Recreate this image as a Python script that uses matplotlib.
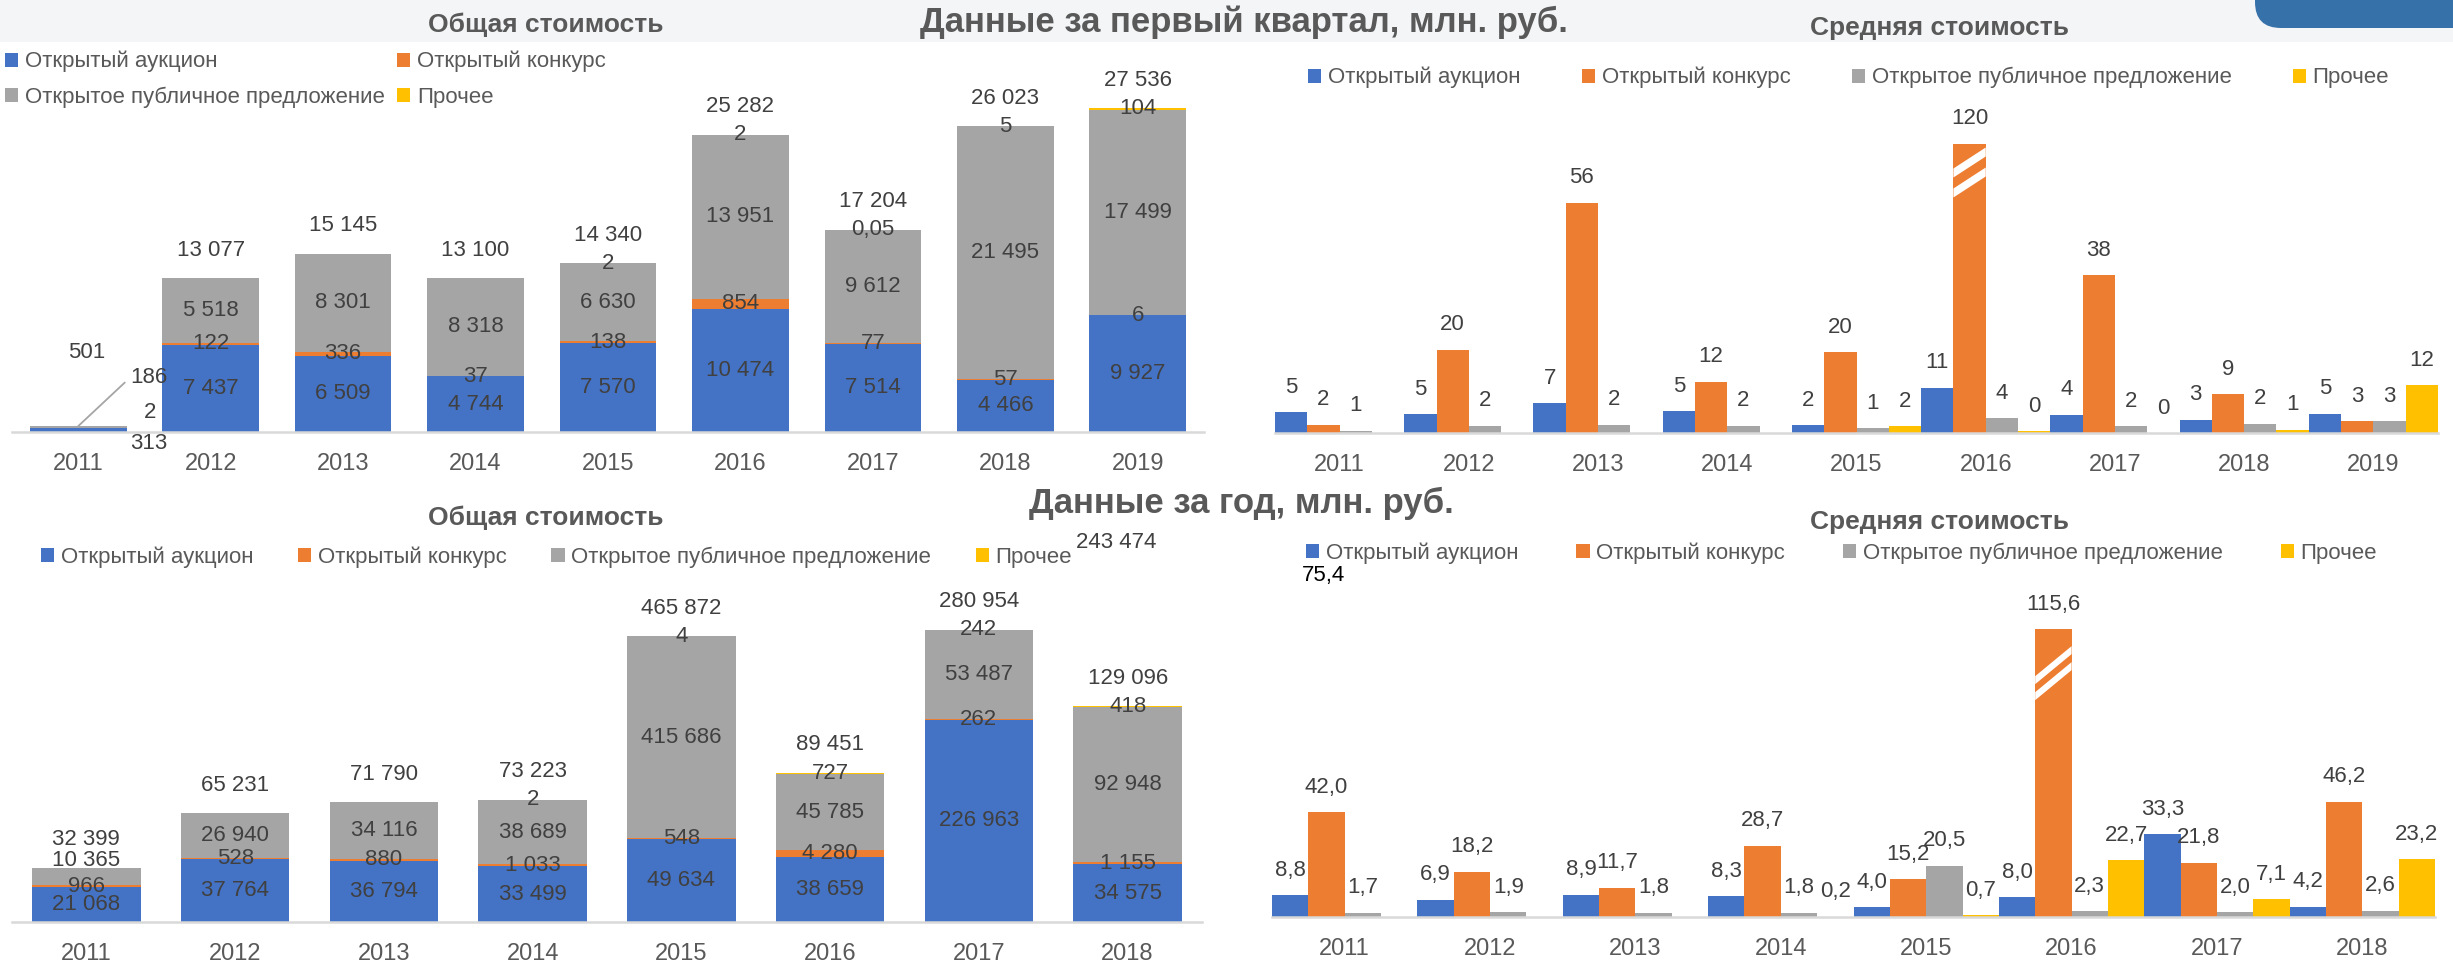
import numpy as np
import matplotlib
matplotlib.use("Agg")
import matplotlib.pyplot as plt
from matplotlib.patches import Patch, Polygon, FancyBboxPatch, Rectangle
from matplotlib.transforms import IdentityTransform

plt.rcParams['font.family'] = ['Liberation Sans', 'DejaVu Sans']

W, H = 2453, 973
TXT = '#404040'
TITLE = '#595959'
NUM_SIZE = 16

series_names = ['Открытый аукцион', 'Открытый конкурс',
                'Открытое публичное предложение', 'Прочее']
colors = ['#4472C4', '#ED7D31', '#A5A5A5', '#FFC000']
nan = np.nan

# first quarter, total (mln rub)
q_years = ['2011', '2012', '2013', '2014', '2015', '2016', '2017', '2018', '2019']
q_auction = [313, 7437, 6509, 4744, 7570, 10474, 7514, 4466, 9927]
q_contest = [2, 122, 336, 37, 138, 854, 77, 57, 6]
q_public = [186, 5518, 8301, 8318, 6630, 13951, 9612, 21495, 17499]
q_other = [nan, nan, nan, nan, 2, 2, 0.05, 5, 104]
q_total = [501, 13077, 15145, 13100, 14340, 25282, 17204, 26023, 27536]

# first quarter, average (mln rub)
q_avg_auction = [5.0, 4.6, 7.2, 5.3, 1.9, 10.9, 4.4, 3.2, 4.7]
q_avg_contest = [2.0, 20.2, 55.8, 12.4, 19.6, 120.0, 38.2, 9.4, 2.8]
q_avg_public = [0.6, 1.8, 2.0, 1.8, 1.1, 3.6, 1.6, 2.2, 2.8]
q_avg_other = [nan, nan, nan, nan, 1.6, 0.4, 0.0, 0.8, 11.6]

# full year, total (mln rub)
y_years = ['2011', '2012', '2013', '2014', '2015', '2016', '2017', '2018']
y_auction = [21068, 37764, 36794, 33499, 49634, 38659, 226963, 34575]
y_contest = [966, 528, 880, 1033, 548, 4280, 262, 1155]
y_public = [10365, 26940, 34116, 38689, 415686, 45785, 53487, 92948]
y_other = [nan, nan, nan, 2, 4, 727, 242, 418]
y_total = [32399, 65231, 71790, 73223, 465872, 89451, 280954, 129096]
y_stray_total = 243474

# full year, average (mln rub)
y_avg_auction = [8.8, 6.9, 8.9, 8.3, 4.0, 8.0, 33.3, 4.2]
y_avg_contest = [42.0, 18.2, 11.7, 28.7, 15.2, 115.6, 21.8, 46.2]
y_avg_public = [1.7, 1.9, 1.8, 1.8, 20.5, 2.3, 2.0, 2.6]
y_avg_other = [nan, nan, nan, 0.2, 0.7, 22.7, 7.1, 23.2]
y_stray_avg = 75.4


def fmt_int(v):
    if v != int(v):
        return str(v).replace('.', ',')
    return f'{int(v):,}'.replace(',', ' ')


def fmt0(v):
    return f'{v:.0f}'


def fmt1(v):
    return f'{v:.1f}'.replace('.', ',')


fig = plt.figure(figsize=(W / 100, H / 100), dpi=100)


def px_axes(left, right, top, bottom):
    return fig.add_axes([left / W, 1 - bottom / H, (right - left) / W, (bottom - top) / H])


def style(ax, years, ymax):
    ax.set_xlim(-0.5, len(years) - 0.5)
    ax.set_ylim(0, ymax)
    for s in ['top', 'right', 'left']:
        ax.spines[s].set_visible(False)
    ax.spines['bottom'].set_color('#D9D9D9')
    ax.spines['bottom'].set_linewidth(1.8)
    ax.set_yticks([])
    ax.set_xticks(range(len(years)), years)
    ax.tick_params(axis='x', length=0, pad=15, labelsize=17, labelcolor=TITLE)
    ax.patch.set_alpha(0)


def stacked(ax, years, layers, totals, cap, skip=(), shifts=None):
    shifts = shifts or {}
    x = np.arange(len(years))
    base = np.zeros(len(years))
    for k, (vals, color) in enumerate(zip(layers, colors)):
        vals = np.asarray(vals, float)
        shown = np.minimum(np.nan_to_num(vals), cap)
        ax.bar(x, shown, 0.73, bottom=base, color=color, zorder=2)
        for i, v in enumerate(vals):
            if np.isnan(v) or i in skip:
                continue
            ax.annotate(fmt_int(v), (x[i], base[i] + shown[i] / 2),
                        xytext=(0, shifts.get((k, i), 0)), textcoords='offset pixels',
                        ha='center', va='center', fontsize=NUM_SIZE, color=TXT, zorder=3)
        base += shown
    for i, t in enumerate(totals):
        if i in skip:
            continue
        ax.annotate(fmt_int(t), (x[i], base[i]), xytext=(0, 28), textcoords='offset pixels',
                    ha='center', va='center', fontsize=NUM_SIZE, color=TXT)
    return base


def grouped(ax, years, layers, fmt, cap=None):
    x = np.arange(len(years))
    n = len(layers)
    w = 1 / n
    tops = []
    for k, (vals, color) in enumerate(zip(layers, colors)):
        vals = np.asarray(vals, float)
        shown = np.nan_to_num(vals)
        if cap is not None:
            shown = np.minimum(shown, cap)
        xs = x + (k - (n - 1) / 2) * w
        ax.bar(xs, shown, w, color=color, zorder=2)
        for xi, s, v in zip(xs, shown, vals):
            if np.isnan(v):
                continue
            ax.annotate(fmt(v), (xi, s), xytext=(0, 25), textcoords='offset pixels',
                        ha='center', va='center', fontsize=NUM_SIZE, color=TXT)
        tops.append((xs, shown, w))
    return tops


def draw_break(ax, xc, w, top, below, rise, thick, gap):
    # white diagonal stripes marking a broken bar, in display pixels
    xl, yt = ax.transData.transform((xc - w / 2, top))
    xr, _ = ax.transData.transform((xc + w / 2, top))
    for j in range(2):
        yl = yt - below - j * gap
        yr = yl + rise
        poly = Polygon([(xl, yl - thick / 2), (xr, yr - thick / 2),
                        (xr, yr + thick / 2), (xl, yl + thick / 2)],
                       closed=True, facecolor='white', edgecolor='none',
                       transform=IdentityTransform(), zorder=4)
        fig.add_artist(poly)


def legend(x_px, y_px, ncol, colspace, order, labelspacing=0.55):
    handles = [Patch(facecolor=colors[i]) for i in order]
    fig.legend(handles, [series_names[i] for i in order], loc='upper left',
               bbox_to_anchor=(x_px / W, 1 - y_px / H), ncol=ncol, frameon=False,
               fontsize=16, handlelength=0.6, handleheight=0.6, handletextpad=0.3,
               columnspacing=colspace, borderpad=0, borderaxespad=0,
               labelspacing=labelspacing, labelcolor=TITLE)


# header band and corner decoration
fig.add_artist(Rectangle((0, 1 - 42 / H), 1, 42 / H, transform=fig.transFigure,
                         facecolor='#F3F5F7', edgecolor='none', zorder=0))
fig.add_artist(FancyBboxPatch((2255, H - 28), 260, 60,
                              boxstyle='round,pad=0,rounding_size=26',
                              transform=IdentityTransform(), facecolor='#3771A9',
                              edgecolor='none', zorder=1))

fig.text(1244 / W, 1 - 22 / H, 'Данные за первый квартал, млн. руб.', ha='center', va='center',
         fontsize=25, fontweight='bold', color=TITLE)
fig.text(1241 / W, 1 - 503 / H, 'Данные за год, млн. руб.', ha='center', va='center',
         fontsize=25, fontweight='bold', color=TITLE)
for (xp, yp, t) in [(546, 25, 'Общая стоимость'), (1940, 28, 'Средняя стоимость'),
                    (546, 518, 'Общая стоимость'), (1940, 522, 'Средняя стоимость')]:
    fig.text(xp / W, 1 - yp / H, t, ha='center', va='center', fontsize=19,
             fontweight='bold', color=TITLE)

# --- quarter total
ax1 = px_axes(12, 1204, 80, 432)
style(ax1, q_years, 29950)
base = stacked(ax1, q_years, [q_auction, q_contest, q_public, q_other], q_total,
               cap=1e9, skip=(0,))
ax1.annotate(fmt_int(q_public[0]), (0, base[0]), xytext=(71, 49), textcoords='offset pixels',
             ha='center', va='center', fontsize=NUM_SIZE, color=TXT,
             arrowprops=dict(arrowstyle='-', color='#A5A5A5', lw=1.3, relpos=(0, 0.5),
                             shrinkA=3, shrinkB=0))
ax1.annotate(fmt_int(q_contest[0]), (0, base[0]), xytext=(72, 14), textcoords='offset pixels',
             ha='center', va='center', fontsize=NUM_SIZE, color=TXT)
ax1.annotate(fmt_int(q_auction[0]), (0, base[0]), xytext=(71, -17), textcoords='offset pixels',
             ha='center', va='center', fontsize=NUM_SIZE, color=TXT)
ax1.annotate(fmt_int(q_total[0]), (0, base[0]), xytext=(8, 74), textcoords='offset pixels',
             ha='center', va='center', fontsize=NUM_SIZE, color=TXT)

# --- quarter average
Q_CAP = 70
ax2 = px_axes(1275, 2438, 80, 433)
style(ax2, q_years, 85.5)
tops = grouped(ax2, q_years, [q_avg_auction, q_avg_contest, q_avg_public, q_avg_other], fmt0,
               cap=Q_CAP)
xs, shown, w = tops[1]
i = int(np.argmax(q_avg_contest))
draw_break(ax2, xs[i], w, shown[i], below=29, rise=21, thick=9, gap=20)

# --- year total
Y_CAP = 121000
ax3 = px_axes(12, 1202, 600, 922)
style(ax3, y_years, 192800)
stacked(ax3, y_years, [y_auction, y_contest, y_public, y_other], y_total, cap=Y_CAP,
        shifts={(2, 0): 16})
fig.text(1116 / W, 1 - 542 / H, fmt_int(y_stray_total), ha='center', va='center',
         fontsize=NUM_SIZE, color=TXT)

# --- year average
ax4 = px_axes(1272, 2435, 600, 917)
style(ax4, y_years, 127.3)
tops = grouped(ax4, y_years, [y_avg_auction, y_avg_contest, y_avg_public, y_avg_other], fmt1)
xs, shown, w = tops[1]
i = int(np.argmax(y_avg_contest))
draw_break(ax4, xs[i], w, shown[i], below=51, rise=30, thick=8, gap=16)
fig.text(1324 / W, 1 - 575 / H, fmt1(y_stray_avg), ha='center', va='center',
         fontsize=NUM_SIZE, color='black')

legend(5, 51, 2, 0.55, [0, 2, 1, 3], labelspacing=0.65)
legend(1308, 67, 4, 2.75, [0, 1, 2, 3])
legend(41, 546, 4, 2.0, [0, 1, 2, 3])
legend(1306, 542, 4, 2.6, [0, 1, 2, 3])

fig.savefig('out.png', dpi=100)
